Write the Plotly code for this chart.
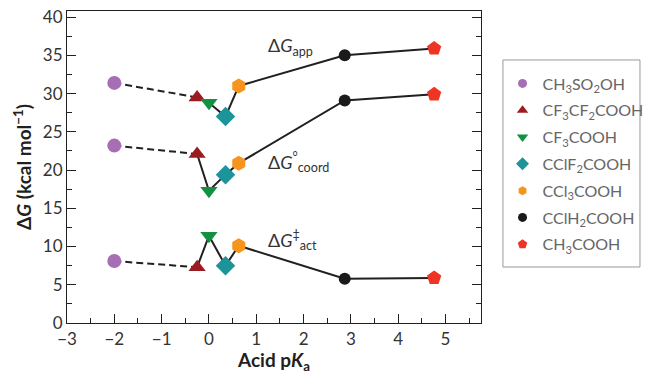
import plotly.graph_objects as go

# ---- data ----
compounds = ["CH<sub>3</sub>SO<sub>2</sub>OH", "CF<sub>3</sub>CF<sub>2</sub>COOH", "CF<sub>3</sub>COOH",
             "CClF<sub>2</sub>COOH", "CCl<sub>3</sub>COOH", "CClH<sub>2</sub>COOH", "CH<sub>3</sub>COOH"]
pka = [-2.0, -0.25, 0.0, 0.35, 0.63, 2.87, 4.76]
g_app = [31.4, 29.5, 28.8, 27.0, 31.0, 35.0, 35.9]
g_coord = [23.2, 22.1, 17.3, 19.4, 20.9, 29.1, 29.9]
g_act = [8.1, 7.3, 11.4, 7.5, 10.1, 5.8, 5.9]

x_ticks = [-3, -2, -1, 0, 1, 2, 3, 4, 5]
y_ticks = [0, 5, 10, 15, 20, 25, 30, 35, 40]

# ---- styles ----
colors = ["#a66eb3", "#9b1c20", "#139142", "#1c9499", "#f7941d", "#1a1a1a", "#ee3424"]
symbols = ["circle", "triangle-up", "triangle-down", "diamond", "hexagon", "circle", "pentagon"]
sizes = [14, 15, 15, 15, 15, 12, 15]
legend_sizes = [9, 10, 10, 10, 9, 9, 10]

fig = go.Figure()
LINE = "#231f20"
for series in (g_app, g_coord, g_act):
    fig.add_trace(go.Scatter(x=pka[:2], y=series[:2], mode="lines",
                             line=dict(color=LINE, width=2, dash="7px,4px"),
                             showlegend=False, hoverinfo="skip"))
    fig.add_trace(go.Scatter(x=pka[1:], y=series[1:], mode="lines",
                             line=dict(color=LINE, width=2),
                             showlegend=False, hoverinfo="skip"))

for i, name in enumerate(compounds):
    fig.add_trace(go.Scatter(x=[pka[i]] * 3, y=[g_app[i], g_coord[i], g_act[i]],
                             mode="markers", name=name, showlegend=False,
                             marker=dict(symbol=symbols[i], color=colors[i], size=sizes[i],
                                         line=dict(width=0))))
    # legend entry with smaller marker
    fig.add_trace(go.Scatter(x=[None], y=[None], mode="markers", name=name,
                             legendgroup=f"g{i}",
                             marker=dict(symbol=symbols[i], color=colors[i], size=legend_sizes[i],
                                         line=dict(width=0))))

labels = ["Δ<i>G</i><sub>app</sub>", "Δ<i>G</i><sup>°</sup><sub>coord</sub>", "Δ<i>G</i><sup>‡</sup><sub>act</sub>"]
label_pos = [(1.2, 36.2), (1.2, 21.0), (1.2, 10.8)]
for t, (lx, ly) in zip(labels, label_pos):
    fig.add_annotation(x=lx, y=ly, text=t, showarrow=False, xanchor="left", yanchor="middle",
                       font=dict(family="Lato", size=18, color="#333333"))

# legend frame
fig.add_shape(type="rect", xref="paper", yref="paper", x0=1.053, x1=1.384, y0=0.1795, y1=0.843,
              line=dict(color="#999999", width=1), fillcolor="rgba(0,0,0,0)")

axis_common = dict(showgrid=False, zeroline=False, showline=True, linecolor="#231f20", linewidth=1.2,
                   ticks="inside", ticklen=9, tickwidth=1.2, tickcolor="#231f20", automargin=False,
                   ticklabeloverflow="allow",
                   tickfont=dict(family="Lato", size=17, color="#333333"))

fig.update_xaxes(range=[-3, 5.75], tickvals=x_ticks, mirror=True,
                 minor=dict(ticks="inside", ticklen=5, dtick=0.5, tickcolor="#231f20", tickwidth=1.2),
                 title=dict(text="<b>Acid p<i>K</i><sub>a</sub></b>", standoff=6,
                            font=dict(family="Lato", size=19, color="#231f20")),
                 **axis_common)
fig.update_yaxes(range=[0, 40.8], tickvals=y_ticks, mirror="ticks",
                 minor=dict(ticks="inside", ticklen=5, dtick=2.5, tickcolor="#231f20", tickwidth=1.2),
                 title=dict(text="<b>Δ<i>G</i> (kcal mol<sup>−1</sup>)</b>", standoff=6,
                            font=dict(family="Lato", size=19, color="#231f20")),
                 **axis_common)

# page body has an 8px default margin, so the figure is 8px smaller than the window
fig.update_layout(
    width=644, height=366,
    margin=dict(l=59, r=171, t=3, b=51),
    plot_bgcolor="white", paper_bgcolor="white",
    legend=dict(x=1.052, y=0.822, xanchor="left", yanchor="top",
                borderwidth=0, bgcolor="rgba(0,0,0,0)", tracegroupgap=3,
                font=dict(family="Lato", size=16, color="#666666")),
)

fig.write_html("out.html")
